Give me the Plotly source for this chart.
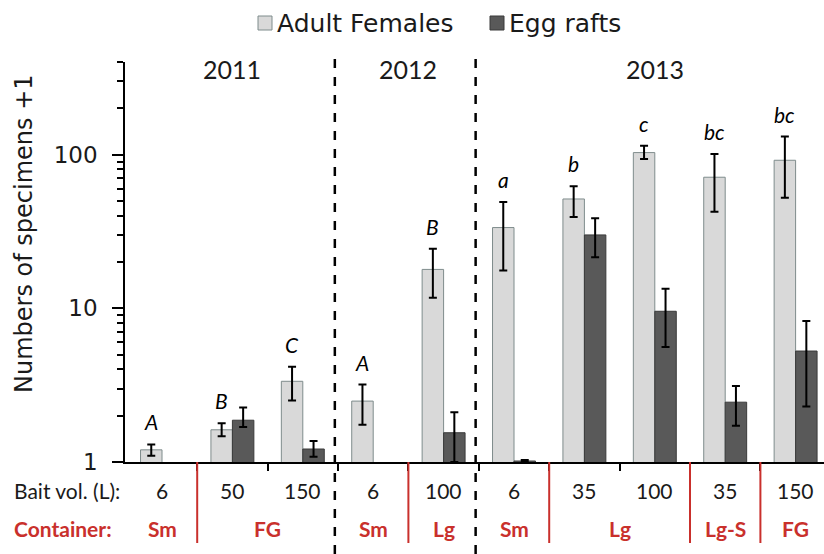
import math
import plotly.graph_objects as go

# ---------------- data ----------------
years = ["2011", "2011", "2011", "2012", "2012", "2013", "2013", "2013", "2013", "2013"]
bait_vol = ["6", "50", "150", "6", "100", "6", "35", "100", "35", "150"]
containers = ["Sm", "FG", "FG", "Sm", "Lg", "Sm", "Lg", "Lg", "Lg-S", "FG"]
letters = ["A", "B", "C", "A", "B", "a", "b", "c", "bc", "bc"]

af_val = [1.20, 1.62, 3.35, 2.49, 17.9, 33.5, 51.4, 103, 71.2, 91.8]
af_hi = [1.30, 1.79, 4.16, 3.19, 24.4, 49.2, 62.3, 114, 101, 131]
af_lo = [1.10, 1.47, 2.51, 1.75, 11.7, 17.6, 39.3, 93.5, 42.4, 52.4]

er_val = [None, 1.87, 1.215, None, 1.55, 1.015, 30.0, 9.56, 2.45, 5.27]
er_hi = [None, 2.26, 1.37, None, 2.11, 1.03, 38.5, 13.4, 3.12, 8.27]
er_lo = [None, 1.69, 1.08, None, 1.0, 1.0, 21.5, 5.60, 1.72, 2.30]

major_ticks = [1, 10, 100]
minor_ticks = [2, 3, 4, 5, 6, 7, 8, 9, 20, 30, 40, 50, 60, 70, 80, 90, 200, 300, 400]

# ---------------- layout geometry ----------------
W, H = 824, 554
ML, MR, MT, MB = 125, 0, 62, 92
PW, PH = W - ML - MR, H - MT - MB
CAT_PX = 70.4
x0 = -(162 - ML) / CAT_PX
x1 = x0 + PW / CAT_PX
YMAX = 400
BARGAP = 0.39
BAR_W = (1 - BARGAP) / 2

def px_x(px):
    return (px - ML) / PW

def px_y(py):
    return (H - MB - py) / PH

RED = "#c9302c"
idx = list(range(len(bait_vol)))

def errs(val, hi, lo):
    plus = [None if v is None else h - v for v, h in zip(val, hi)]
    minus = [None if v is None else v - l for v, l in zip(val, lo)]
    return plus, minus

af_p, af_m = errs(af_val, af_hi, af_lo)
er_p, er_m = errs(er_val, er_hi, er_lo)

fig = go.Figure()
fig.add_trace(go.Bar(
    x=idx, y=af_val, name="Adult Females",
    marker=dict(color="#d9d9d9", line=dict(color="#7f8c8c", width=1)),
    error_y=dict(type="data", array=af_p, arrayminus=af_m, color="black", thickness=2, width=4),
    showlegend=False,
))
fig.add_trace(go.Bar(
    x=idx, y=er_val, name="Egg rafts",
    marker=dict(color="#595959", line=dict(color="#3a3a3a", width=1)),
    error_y=dict(type="data", array=er_p, arrayminus=er_m, color="black", thickness=2, width=4),
    showlegend=False,
))

shapes = []
annotations = []

# significance letters above adult female bars
for i, (lt, top) in enumerate(zip(letters, af_hi)):
    annotations.append(dict(
        x=i - BAR_W / 2, y=math.log10(top), xref="x", yref="y", text=lt,
        showarrow=False, yanchor="bottom", yshift=8,
        font=dict(family="Lato", size=21, color="black", style="italic"),
    ))

# bait volume row
for i, b in enumerate(bait_vol):
    annotations.append(dict(
        x=i, y=0, xref="x", yref="paper", text=b, showarrow=False,
        yanchor="middle", yshift=-28, font=dict(family="Lato", size=21, color="#1a1a1a"),
    ))
annotations.append(dict(
    x=px_x(12), y=0, xref="paper", yref="paper", text="Bait vol. (L):", showarrow=False,
    xanchor="left", yanchor="middle", yshift=-28, font=dict(family="Lato", size=21, color="#1a1a1a"),
))

# container row: runs of identical containers within a year
runs = []
start = 0
for i in range(1, len(containers) + 1):
    if i == len(containers) or containers[i] != containers[start] or years[i] != years[start]:
        runs.append((start, i - 1, containers[start]))
        start = i
for s, e, name in runs:
    annotations.append(dict(
        x=(s + e) / 2, y=0, xref="x", yref="paper", text="<b>%s</b>" % name, showarrow=False,
        yanchor="middle", yshift=-66, font=dict(family="Lato", size=21, color=RED),
    ))
annotations.append(dict(
    x=px_x(12), y=0, xref="paper", yref="paper", text="<b>Container:</b>", showarrow=False,
    xanchor="left", yanchor="middle", yshift=-66, font=dict(family="Lato", size=21, color=RED),
))

# separators
for k in range(len(runs) - 1):
    b = runs[k][1] + 0.5
    if years[runs[k][1]] != years[runs[k + 1][0]]:
        shapes.append(dict(type="line", xref="x", yref="paper", x0=b - 0.045, x1=b - 0.045,
                           y0=px_y(H), y1=px_y(50), line=dict(color="black", width=2.5, dash="dash")))
    else:
        shapes.append(dict(type="line", xref="x", yref="paper", x0=b, x1=b,
                           y0=px_y(543), y1=0, line=dict(color=RED, width=2)))

# year labels
yr_names = []
for y in years:
    if y not in yr_names:
        yr_names.append(y)
for y in yr_names:
    ids = [i for i, v in enumerate(years) if v == y]
    annotations.append(dict(
        x=(ids[0] + ids[-1]) / 2, y=px_y(69), xref="x", yref="paper", text=y, showarrow=False,
        yanchor="middle", font=dict(family="Lato", size=25, color="#1a1a1a"),
    ))

# y-axis title
annotations.append(dict(
    x=px_x(24), y=px_y(234), xref="paper", yref="paper", text="Numbers of specimens +1",
    showarrow=False, textangle=-90, xanchor="center", yanchor="middle",
    font=dict(family="DejaVu Sans", size=24, color="#1a1a1a"),
))

# legend (drawn)
leg = [("Adult Females", "#d9d9d9", "#7f8c8c", 258), ("Egg rafts", "#595959", "#3a3a3a", 490)]
for name, col, lcol, lx in leg:
    shapes.append(dict(type="rect", xref="paper", yref="paper",
                       x0=px_x(lx), x1=px_x(lx + 14), y0=px_y(30), y1=px_y(16),
                       fillcolor=col, line=dict(color=lcol, width=1)))
    annotations.append(dict(
        x=px_x(lx + 17), y=px_y(23), xref="paper", yref="paper", text=name, showarrow=False,
        xanchor="left", yanchor="middle", font=dict(family="DejaVu Sans", size=25, color="#1a1a1a"),
    ))

fig.update_layout(
    width=W, height=H,
    margin=dict(l=ML, r=MR, t=MT, b=MB),
    paper_bgcolor="white", plot_bgcolor="white",
    barmode="group", bargap=BARGAP, bargroupgap=0,
    shapes=shapes, annotations=annotations,
    xaxis=dict(range=[x0, x1], showline=True, linecolor="black", linewidth=1.5,
               tickvals=[i + 0.5 for i in idx[:-1]], ticktext=[""] * (len(idx) - 1),
               ticks="outside", ticklen=7, tickwidth=1.5, tickcolor="black",
               showgrid=False, zeroline=False, fixedrange=True),
    yaxis=dict(type="log", range=[0, math.log10(YMAX)], showline=True, linecolor="black", linewidth=1.5,
               tickvals=major_ticks, ticktext=[str(t) for t in major_ticks],
               ticks="outside", ticklen=11, tickwidth=1.5, tickcolor="black",
               ticklabelstandoff=10,
               minor=dict(tickvals=minor_ticks, ticks="outside", ticklen=6, tickwidth=1.5, tickcolor="black"),
               tickfont=dict(family="DejaVu Sans", size=23, color="#1a1a1a"),
               showgrid=False, zeroline=False, fixedrange=True),
    showlegend=False,
)

fig.write_html(
    "out.html",
    config={"displayModeBar": False},
    post_script="document.body.style.margin='0';document.body.style.overflow='hidden';",
)
